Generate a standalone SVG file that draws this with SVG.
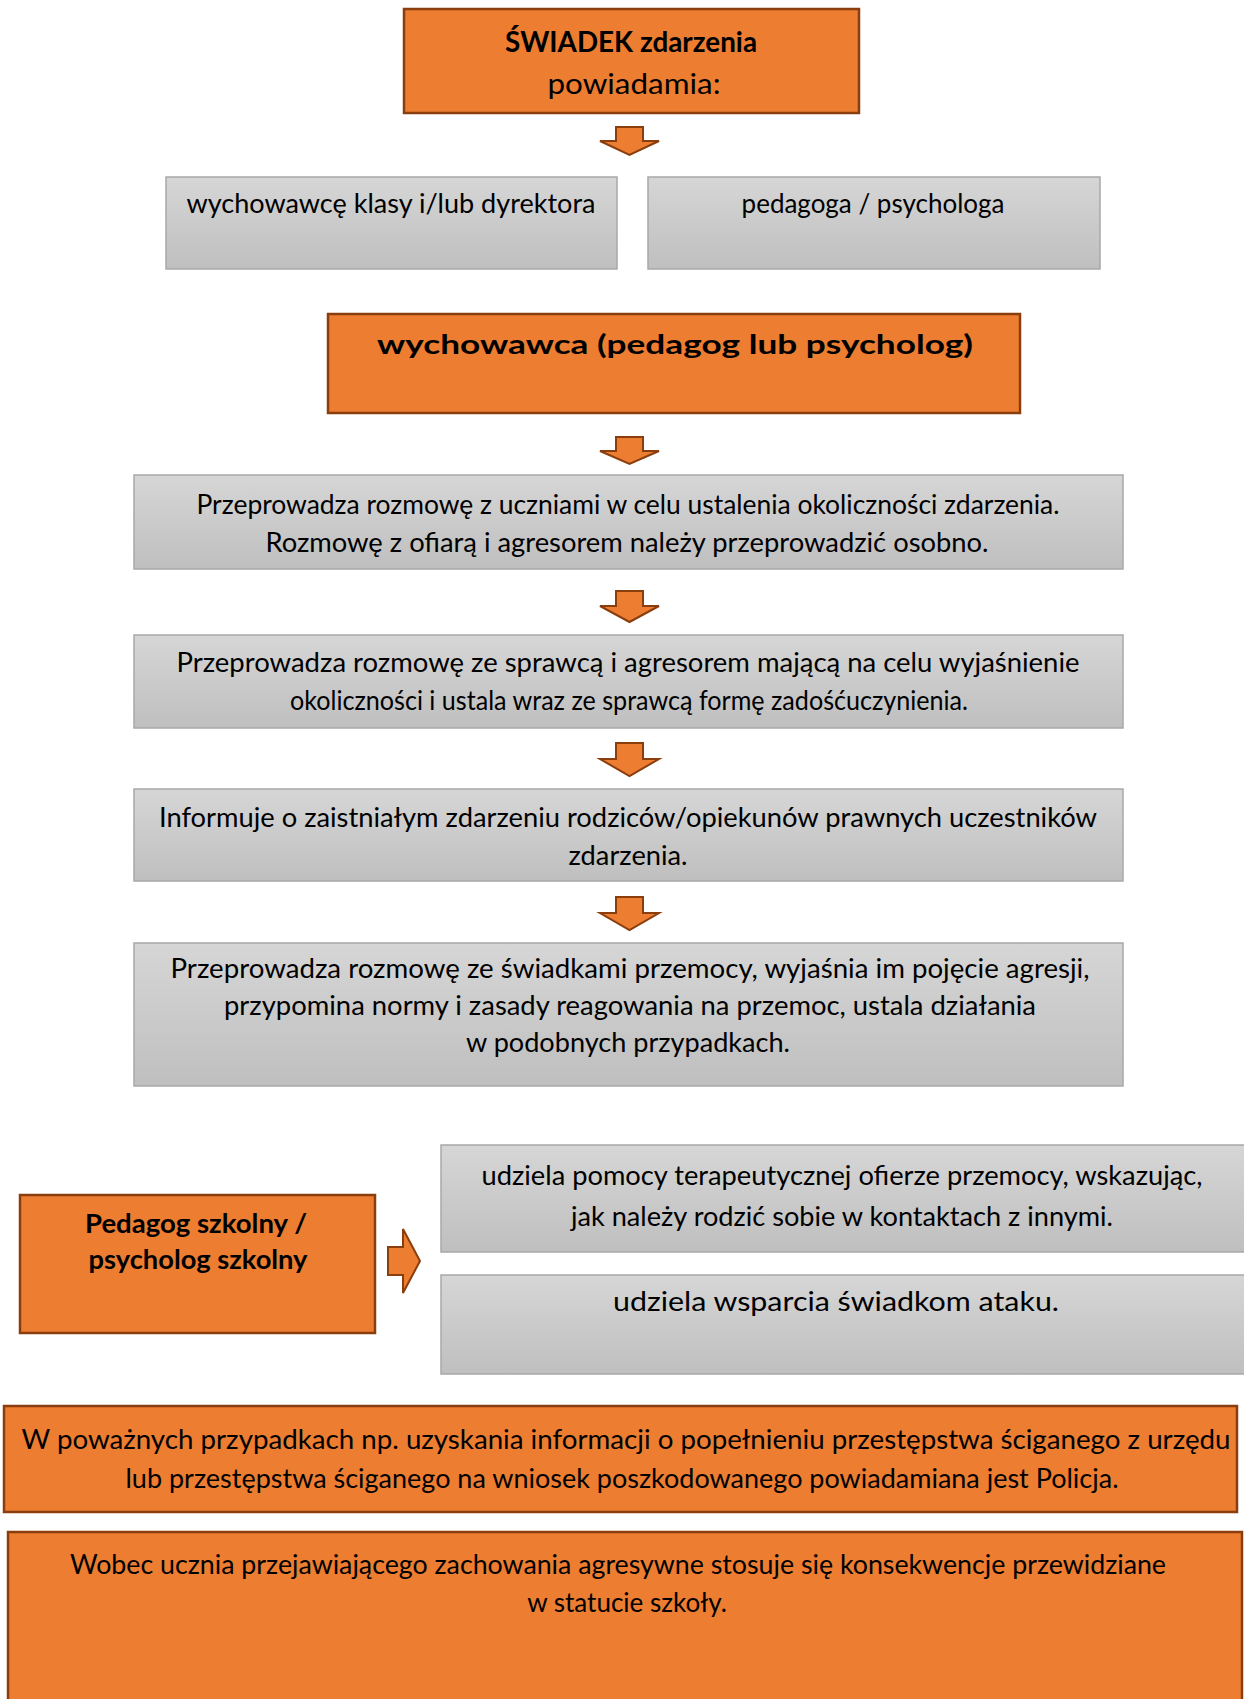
<svg xmlns="http://www.w3.org/2000/svg" width="1244" height="1699" viewBox="0 0 1244 1699">
<defs>
<linearGradient id="g" x1="0" y1="0" x2="0" y2="1">
<stop offset="0" stop-color="#d6d6d6"/>
<stop offset="1" stop-color="#bfbfbf"/>
</linearGradient>
</defs>
<style>
.o{fill:#ED7D31;stroke:#8A3E0E;stroke-width:2.5}
.gr{fill:url(#g);stroke:#a8a8a8;stroke-width:1.5}
.ar{fill:#ED7D31;stroke:#8A3E0E;stroke-width:2;stroke-linejoin:miter}
text{font-family:Lato,"Liberation Sans",sans-serif;font-size:26px;fill:#000;text-anchor:middle}
.b{font-weight:bold}
.big{font-size:28px}
</style>
<rect width="1244" height="1699" fill="#fff"/>
<g id="n1"><rect class="o" x="404" y="9" width="455" height="104"/>
<text class="b big" x="631" y="52" textLength="252" lengthAdjust="spacingAndGlyphs">ŚWIADEK zdarzenia</text>
<text class="big" x="634" y="94" textLength="173" lengthAdjust="spacingAndGlyphs">powiadamia:</text></g>
<g id="n2"><rect class="gr" x="166" y="177" width="451" height="92"/>
<text x="391" y="213" textLength="409" lengthAdjust="spacingAndGlyphs">wychowawcę klasy i/lub dyrektora</text></g>
<g id="n3"><rect class="gr" x="648" y="177" width="452" height="92"/>
<text x="873" y="213">pedagoga / psychologa</text></g>
<g id="n4"><rect class="o" x="328" y="314" width="692" height="99"/>
<text class="b" x="675" y="354" textLength="596" lengthAdjust="spacingAndGlyphs">wychowawca (pedagog lub psycholog)</text></g>
<g id="n5"><rect class="gr" x="134" y="475" width="989" height="94"/>
<text x="628" y="514" textLength="863" lengthAdjust="spacingAndGlyphs">Przeprowadza rozmowę z uczniami w celu ustalenia okoliczności zdarzenia.</text>
<text x="627" y="552" textLength="723" lengthAdjust="spacingAndGlyphs">Rozmowę z ofiarą i agresorem należy przeprowadzić osobno.</text></g>
<g id="n6"><rect class="gr" x="134" y="635" width="989" height="93"/>
<text x="628" y="672" textLength="903" lengthAdjust="spacingAndGlyphs">Przeprowadza rozmowę ze sprawcą i agresorem mającą na celu wyjaśnienie</text>
<text x="629" y="710" textLength="678" lengthAdjust="spacingAndGlyphs">okoliczności i ustala wraz ze sprawcą formę zadośćuczynienia.</text></g>
<g id="n7"><rect class="gr" x="134" y="789" width="989" height="92"/>
<text x="628" y="827" textLength="938" lengthAdjust="spacingAndGlyphs">Informuje o zaistniałym zdarzeniu rodziców/opiekunów prawnych uczestników</text>
<text x="628" y="865" textLength="119" lengthAdjust="spacingAndGlyphs">zdarzenia.</text></g>
<g id="n8"><rect class="gr" x="134" y="943" width="989" height="143"/>
<text x="630" y="978" textLength="919" lengthAdjust="spacingAndGlyphs">Przeprowadza rozmowę ze świadkami przemocy, wyjaśnia im pojęcie agresji,</text>
<text x="630" y="1015" textLength="812" lengthAdjust="spacingAndGlyphs">przypomina normy i zasady reagowania na przemoc, ustala działania</text>
<text x="628" y="1052" textLength="324" lengthAdjust="spacingAndGlyphs">w podobnych przypadkach.</text></g>
<g id="n9"><rect class="o" x="20" y="1195" width="355" height="138"/>
<text class="b" x="196" y="1233" textLength="222" lengthAdjust="spacingAndGlyphs">Pedagog szkolny  /</text>
<text class="b" x="198" y="1269" textLength="219" lengthAdjust="spacingAndGlyphs">psycholog szkolny</text></g>
<g id="n10"><rect class="gr" x="441" y="1145" width="805" height="107"/>
<text x="842" y="1185" textLength="721" lengthAdjust="spacingAndGlyphs">udziela pomocy terapeutycznej ofierze przemocy, wskazując,</text>
<text x="842" y="1226" textLength="542" lengthAdjust="spacingAndGlyphs">jak należy rodzić sobie w kontaktach z innymi.</text></g>
<g id="n11"><rect class="gr" x="441" y="1275" width="805" height="99"/>
<text x="836" y="1311" textLength="446" lengthAdjust="spacingAndGlyphs">udziela wsparcia świadkom ataku.</text></g>
<g id="n12"><rect class="o" x="4" y="1406" width="1233" height="106"/>
<text x="626" y="1449" textLength="1209" lengthAdjust="spacingAndGlyphs">W poważnych przypadkach np. uzyskania informacji o popełnieniu przestępstwa ściganego z urzędu</text>
<text x="622" y="1488" textLength="993" lengthAdjust="spacingAndGlyphs">lub przestępstwa ściganego na wniosek poszkodowanego powiadamiana jest Policja.</text></g>
<g id="n13"><rect class="o" x="8" y="1532" width="1234" height="180"/>
<text x="618" y="1574" textLength="1096" lengthAdjust="spacingAndGlyphs">Wobec ucznia przejawiającego zachowania agresywne stosuje się konsekwencje przewidziane</text>
<text x="627" y="1612">w statucie szkoły.</text></g>
<g id="connectors">
<path class="ar" d="M616,127 H643 V141 H659 L629.5,155 L600,141 H616 Z"/>
<path class="ar" d="M616,437 H643 V451 H659 L629.5,464 L600,451 H616 Z"/>
<path class="ar" d="M616,591 H643 V606 H659 L629.5,622 L600,606 H616 Z"/>
<path class="ar" d="M616,743 H643 V759 H659 L629.5,776 L600,759 H616 Z"/>
<path class="ar" d="M616,897 H643 V913 H659 L629.5,930 L600,913 H616 Z"/>
<path class="ar" d="M388,1247 H403 V1229 L420,1261 L403,1293 V1275 H388 Z"/>
</g>
</svg>
